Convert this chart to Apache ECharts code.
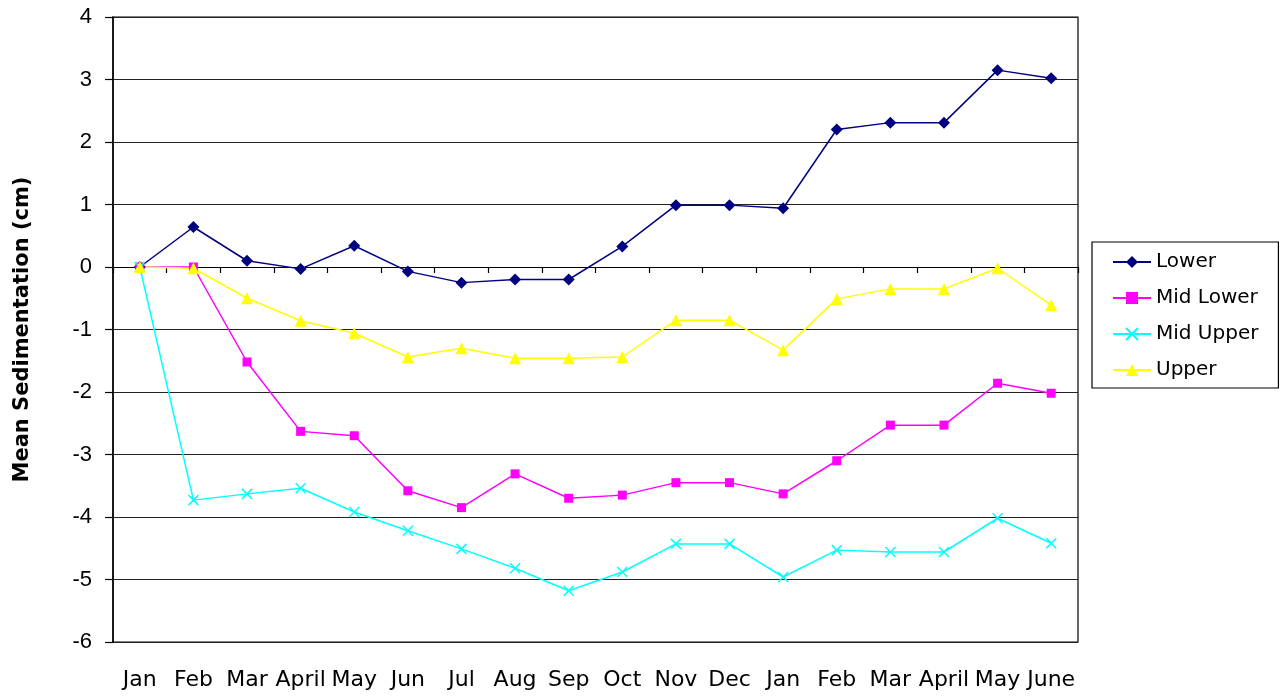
<!DOCTYPE html>
<html>
<head>
<meta charset="utf-8">
<script src="https://cdn.jsdelivr.net/npm/echarts@6/dist/echarts.min.js"></script>
<style>
  html, body { margin: 0; padding: 0; background: #fff; }
  #chart { width: 1281px; height: 698px; }
</style>
</head>
<body>
<div id="chart"></div>
<script>
// Month labels along the survey period
const months = ['Jan', 'Feb', 'Mar', 'April', 'May', 'Jun', 'Jul', 'Aug', 'Sep', 'Oct',
                'Nov', 'Dec', 'Jan', 'Feb', 'Mar', 'April', 'May', 'June'];

// Mean sedimentation (cm) per zone
const lower    = [0, 0.64, 0.10, -0.03, 0.34, -0.07, -0.25, -0.20, -0.20, 0.33,
                  0.99, 0.99, 0.94, 2.20, 2.31, 2.31, 3.15, 3.02];
const midLower = [0, 0, -1.52, -2.63, -2.70, -3.58, -3.85, -3.31, -3.70, -3.65,
                  -3.45, -3.45, -3.63, -3.10, -2.53, -2.53, -1.86, -2.02];
const midUpper = [0, -3.73, -3.63, -3.54, -3.92, -4.22, -4.51, -4.82, -5.18, -4.88,
                  -4.43, -4.43, -4.96, -4.53, -4.56, -4.56, -4.02, -4.42];
const upper    = [0, -0.02, -0.50, -0.86, -1.06, -1.44, -1.30, -1.46, -1.46, -1.44,
                  -0.85, -0.85, -1.33, -0.51, -0.35, -0.35, -0.02, -0.61];

const yTicks = { min: -6, max: 4, step: 1 };

const FONT_NUM = '"Liberation Sans", Arial, sans-serif';
const FONT_TXT = '"DejaVu Sans", "Liberation Sans", Arial, sans-serif';
const chart = echarts.init(document.getElementById('chart'), null, { renderer: 'canvas' });

function lineSeries(name, data, color, symbol, size, extraItem) {
  return {
    name: name,
    type: 'line',
    data: data,
    xAxisIndex: 0,
    symbol: symbol,
    symbolSize: size,
    showAllSymbol: true,
    lineStyle: { color: color, width: 1.5 },
    itemStyle: Object.assign({ color: color }, extraItem || {}),
    emphasis: { disabled: true },
    animation: false
  };
}

const crossPath = 'path://M0,0 L10,10 M10,0 L0,10';

chart.setOption({
  backgroundColor: '#fff',
  animation: false,
  grid: {
    left: 113, top: 17, right: 203, bottom: 56,
    show: true, borderColor: '#000', borderWidth: 1.2, backgroundColor: 'transparent'
  },
  legend: {
    orient: 'vertical',
    left: 1092, top: 242,
    padding: [10, 20, 8, 20],
    itemGap: 16,
    itemWidth: 38, itemHeight: 15,
    borderColor: '#000', borderWidth: 1.2,
    textStyle: { fontFamily: FONT_TXT, fontSize: 20, color: '#000' },
    data: ['Lower', 'Mid Lower', 'Mid Upper', 'Upper']
  },
  xAxis: [
    {
      // axis line crossing at zero, ticks between months
      type: 'category',
      data: months,
      boundaryGap: true,
      axisLine: { onZero: true, lineStyle: { color: '#000', width: 1.2 } },
      axisTick: { show: true, inside: false, length: 6, lineStyle: { color: '#000', width: 1.2 } },
      axisLabel: { show: false },
      splitLine: { show: false }
    },
    {
      // month labels below the plot frame
      type: 'category',
      data: months,
      position: 'bottom',
      boundaryGap: true,
      axisLine: { show: false, onZero: false },
      axisTick: { show: false },
      axisLabel: { show: true, margin: 27, fontFamily: FONT_TXT, fontSize: 22, color: '#000', interval: 0 },
      splitLine: { show: false }
    }
  ],
  yAxis: {
    type: 'value',
    min: yTicks.min, max: yTicks.max, interval: yTicks.step,
    name: 'Mean Sedimentation (cm)',
    nameLocation: 'middle',
    nameGap: 80,
    nameRotate: 90,
    nameTextStyle: { fontFamily: FONT_TXT, fontSize: 21, fontWeight: 'bold', color: '#000' },
    axisLine: { show: true, lineStyle: { color: '#000', width: 1.5 } },
    axisTick: { show: true, length: 8, lineStyle: { color: '#000', width: 1.2 } },
    axisLabel: { margin: 21, fontFamily: FONT_NUM, fontSize: 22, color: '#000' },
    splitLine: { show: true, lineStyle: { color: '#222', width: 1.2 } }
  },
  series: [
    lineSeries('Lower', lower, '#000080', 'diamond', 12),
    lineSeries('Mid Lower', midLower, '#ff00ff', 'rect', 9),
    lineSeries('Mid Upper', midUpper, '#00ffff', crossPath, 10,
               { borderColor: '#00ffff', borderWidth: 1.5 }),
    lineSeries('Upper', upper, '#ffff00', 'triangle', 12)
  ]
});
</script>
</body>
</html>
